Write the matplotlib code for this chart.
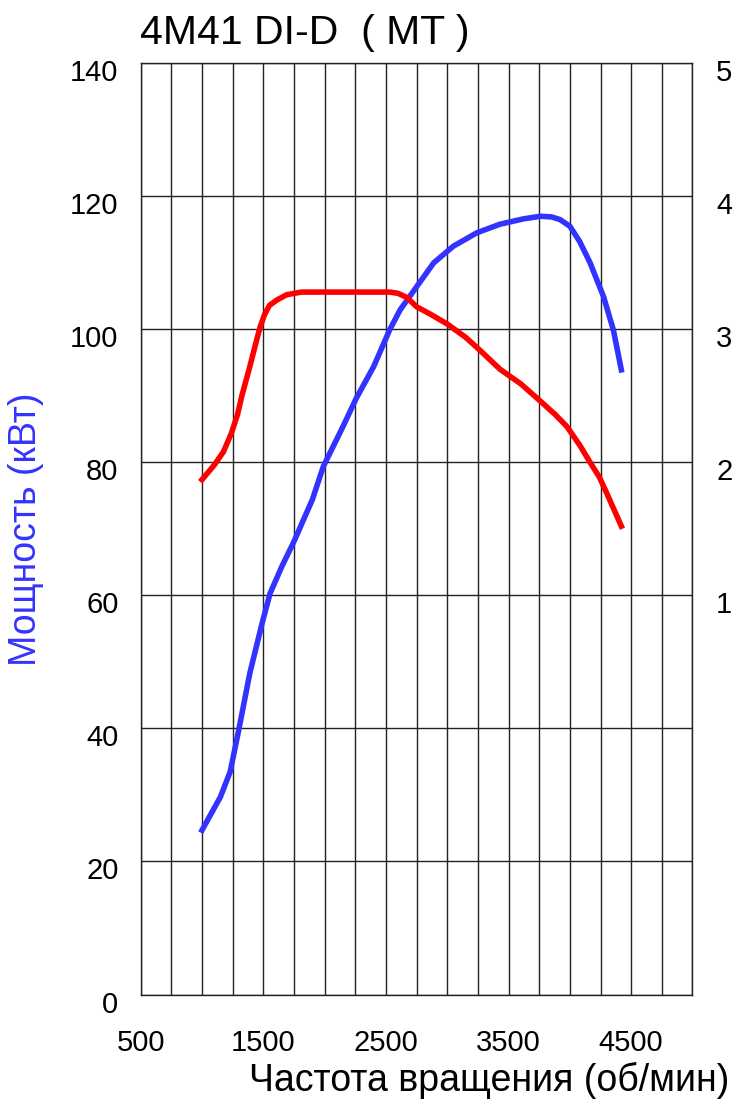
import matplotlib
matplotlib.use("Agg")
import matplotlib.pyplot as plt
import matplotlib.transforms as mtrans
import numpy as np

plt.rcParams['font.family'] = ['Liberation Sans', 'DejaVu Sans']

# power curve (kW) vs engine speed
power_rpm = [1000, 1150, 1230, 1300, 1390, 1490, 1555, 1650, 1750, 1900, 1990, 2150, 2260,
             2400, 2530, 2615, 2750, 2890, 3050, 3240, 3430, 3620, 3760, 3850, 3920, 4000,
             4080, 4165, 4275, 4355, 4420]
power_kw = [24.7, 29.7, 33.5, 39.8, 48.3, 55.8, 60.3, 64.3, 68.1, 74.4, 79.4, 85.4, 89.7,
            94.4, 99.9, 102.9, 106.4, 110.0, 112.5, 114.5, 115.8, 116.6, 117.0, 116.9, 116.5, 115.5,
            113.2, 110.0, 104.9, 99.9, 93.9]

# torque curve (N*m) vs engine speed, right axis shows hundreds
torque_rpm = [1000, 1100, 1175, 1240, 1290, 1325, 1390, 1440, 1475, 1510, 1550, 1610, 1690,
              1750, 1810, 2000, 2250, 2530, 2600, 2670, 2750, 2870, 3000, 3150, 3270, 3430,
              3600, 3760, 3880, 3975, 4080, 4165, 4240, 4300, 4420]
torque_nm = [187, 198, 208, 222, 236, 250, 272, 290, 302, 311, 318, 322, 326,
             327, 328, 328, 328, 328, 327, 324, 317, 311, 304, 294, 284, 270,
             259, 246, 236, 227, 213, 200, 189, 177, 152]

x_ticks = np.arange(500, 5001, 250)
x_labels = ['500', '1500', '2500', '3500', '4500']
y_ticks = [0, 20, 40, 60, 80, 100, 120, 140]
right_ticks = [100, 200, 300, 400, 500]
right_labels = ['1', '2', '3', '4', '5']

fig = plt.figure(figsize=(7.32, 11), dpi=100)
ax = fig.add_axes([0.1922, 0.0959, 0.7538, 0.8466])

ax.plot(power_rpm, power_kw, color='#3333ff', lw=4.0, solid_joinstyle='round', zorder=3)

ax.set_xlim(500, 5000)
ax.set_ylim(0, 140)
ax.set_xticks(x_ticks)
ax.set_xticklabels([str(v) if str(v) in x_labels else '' for v in x_ticks])
ax.set_yticks(y_ticks)
ax.grid(True, color='#222222', lw=1.0)
ax.tick_params(length=0, labelsize=21)
ax.tick_params(axis='y', pad=16)
ax.tick_params(axis='x', pad=25)
for s in ax.spines.values():
    s.set_linewidth(1.0)
    s.set_color('#222222')

ax.set_ylabel('Мощность (кВт)', color='#3333ff', fontsize=27)
ax.yaxis.set_label_coords(-0.176, 0.50)

ax2 = ax.twinx()
ax2.plot(torque_rpm, torque_nm, color='#ff0000', lw=4.0, solid_joinstyle='round', zorder=4)
ax2.set_ylim(-200, 500)
ax2.set_yticks(right_ticks)
ax2.set_yticklabels(right_labels)
ax2.tick_params(length=0, labelsize=21, pad=17)
for s in ax2.spines.values():
    s.set_visible(False)

# the labels sit a little below their grid lines in the original
shift = mtrans.ScaledTranslation(0, -7 / 100, fig.dpi_scale_trans)
for lab in ax.get_yticklabels() + ax2.get_yticklabels():
    lab.set_transform(lab.get_transform() + shift)

fig.text(140 / 732, 1 - 33 / 1100, '4M41 DI-D  ( MT )', fontsize=29.5, va='center', ha='left')
fig.text(729 / 732, 1 - 1080 / 1100, 'Частота вращения (об/мин)', fontsize=27,
         va='center', ha='right')

fig.savefig('out.png', dpi=100)
